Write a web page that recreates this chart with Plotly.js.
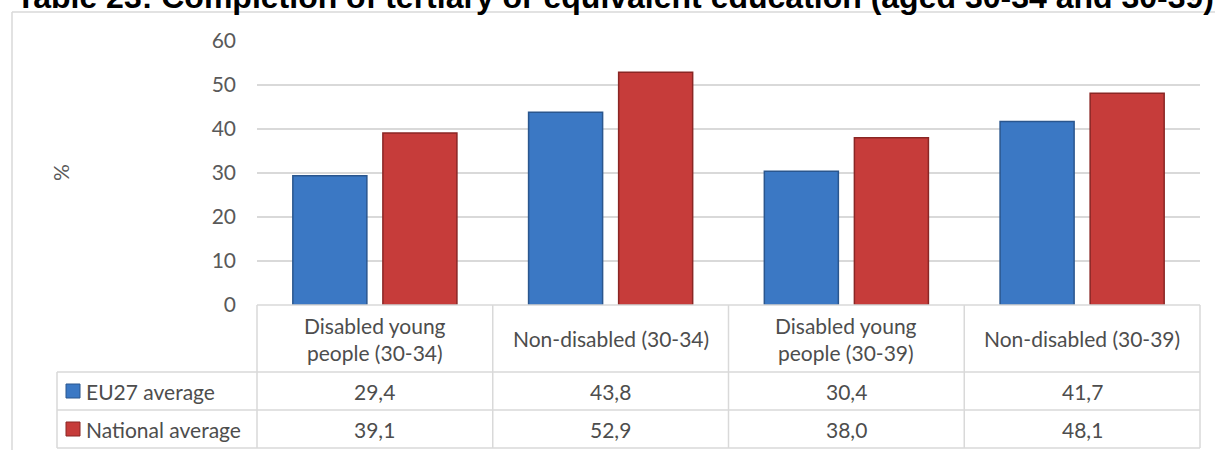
<!DOCTYPE html>
<html><head><meta charset="utf-8">
<script src="https://cdn.plot.ly/plotly-3.0.1.min.js"></script>
<style>html,body{margin:0;padding:0;background:#fff}#chart{width:1215px;height:450px}</style>
</head><body><div id="chart"></div>
<script>
const chartTitle = "Table 23: Completion of tertiary or equivalent education (aged 30-34 and 30-39)";
const yAxisTitle = "%";
const categories = ["Disabled young<br>people (30-34)", "Non-disabled (30-34)", "Disabled young<br>people (30-39)", "Non-disabled (30-39)"];
const seriesNames = ["EU27 average", "National average"];
const eu27Values = [29.4, 43.8, 30.4, 41.7];
const nationalValues = [39.1, 52.9, 38.0, 48.1];
const yTickValues = [0, 10, 20, 30, 40, 50, 60];

const seriesValues = [eu27Values, nationalValues];
const fillColors = ['#3B78C4', '#C63C3A'];
const lineColors = ['#2A568E', '#8A2624'];

const W = 1215, H = 450, L = 257, R = 1200, T = 41, B = 305;
const px = x => (x - L) / (R - L);
const py = y => (B - y) / (B - T);
const fmt = v => v.toFixed(1).replace('.', ',');

const textFont = {family: 'Lato, sans-serif', size: 21, color: '#4D4D4D'};
const gridCol = '#D9D9D9';

const traces = seriesNames.map((name, i) => ({
  type: 'bar', name: name, x: categories, y: seriesValues[i],
  marker: {color: fillColors[i], line: {color: lineColors[i], width: 1.5}},
  hoverinfo: 'skip', showlegend: false
}));

const shapes = [];
const annotations = [];
function hline(y, x0, x1, col, w) {
  shapes.push({type: 'line', xref: 'paper', yref: 'paper', x0: px(x0), x1: px(x1), y0: py(y), y1: py(y), line: {color: col || gridCol, width: w || 1.5}});
}
function vline(x, y0, y1, col, w) {
  shapes.push({type: 'line', xref: 'paper', yref: 'paper', x0: px(x), x1: px(x), y0: py(y0), y1: py(y1), line: {color: col || gridCol, width: w || 1.5}});
}

// outer frame
hline(12, 12, 1216, '#D9D9D9', 1.5);
vline(12, 12, 452, '#D9D9D9', 1.5);

// data table grid
const rowTops = [305, 372, 410, 448];
const labelLeft = 57;
const colW = (R - L) / categories.length;
hline(305, L, R);
hline(372, labelLeft, R);
hline(410, labelLeft, R);
hline(448, labelLeft, R);
vline(labelLeft, 372, 448);
for (let c = 0; c <= categories.length; c++) vline(L + c * colW, 305, 448);

// header cells
categories.forEach((cat, c) => {
  annotations.push({xref: 'paper', yref: 'paper', x: px(L + (c + 0.5) * colW), y: py(338.5),
    text: cat, showarrow: false, xanchor: 'center', yanchor: 'middle', font: textFont, align: 'center'});
});
// value rows
seriesNames.forEach((name, r) => {
  const yc = (rowTops[r + 1] + rowTops[r + 2]) / 2;
  shapes.push({type: 'rect', xref: 'paper', yref: 'paper', x0: px(66), x1: px(80), y0: py(yc - 7), y1: py(yc + 7),
    fillcolor: fillColors[r], line: {color: lineColors[r], width: 1}});
  annotations.push({xref: 'paper', yref: 'paper', x: px(84), y: py(yc), text: name, showarrow: false,
    xanchor: 'left', yanchor: 'middle', font: textFont});
  seriesValues[r].forEach((v, c) => {
    annotations.push({xref: 'paper', yref: 'paper', x: px(L + (c + 0.5) * colW), y: py(yc), text: fmt(v),
      showarrow: false, xanchor: 'center', yanchor: 'middle', font: textFont});
  });
});

// y-axis title
annotations.push({xref: 'paper', yref: 'paper', x: px(60), y: py(173), text: yAxisTitle, textangle: -90,
  showarrow: false, xanchor: 'center', yanchor: 'middle', font: {family: 'Lato, sans-serif', size: 21, color: '#595959'}});

// chart title (cut off at the top edge, as in the reference)
annotations.push({xref: 'paper', yref: 'paper', x: px(615), y: py(-2.6), text: '<b>' + chartTitle + '</b>',
  showarrow: false, xanchor: 'center', yanchor: 'middle', font: {family: 'Liberation Sans, Arial, sans-serif', size: 32, color: '#000000'}});

const layout = {
  width: W, height: H,
  margin: {l: L, r: W - R, t: T, b: H - B, pad: 0},
  paper_bgcolor: '#FFFFFF', plot_bgcolor: '#FFFFFF',
  barmode: 'group', bargap: 0.236, bargroupgap: 0.178,
  showlegend: false,
  xaxis: {type: 'category', showticklabels: false, showgrid: false, zeroline: false, showline: false, ticks: '', fixedrange: true},
  yaxis: {range: [0, 60], tickvals: yTickValues, ticktext: yTickValues.map(String), showgrid: true, gridcolor: gridCol, gridwidth: 1.5,
    zeroline: false, showline: false, ticks: '', ticklabelstandoff: 20, tickfont: {family: 'Lato, sans-serif', size: 21, color: '#595959'}, fixedrange: true},
  shapes: shapes,
  annotations: annotations
};

Plotly.newPlot('chart', traces, layout, {staticPlot: true, displayModeBar: false});
</script>
</body></html>
